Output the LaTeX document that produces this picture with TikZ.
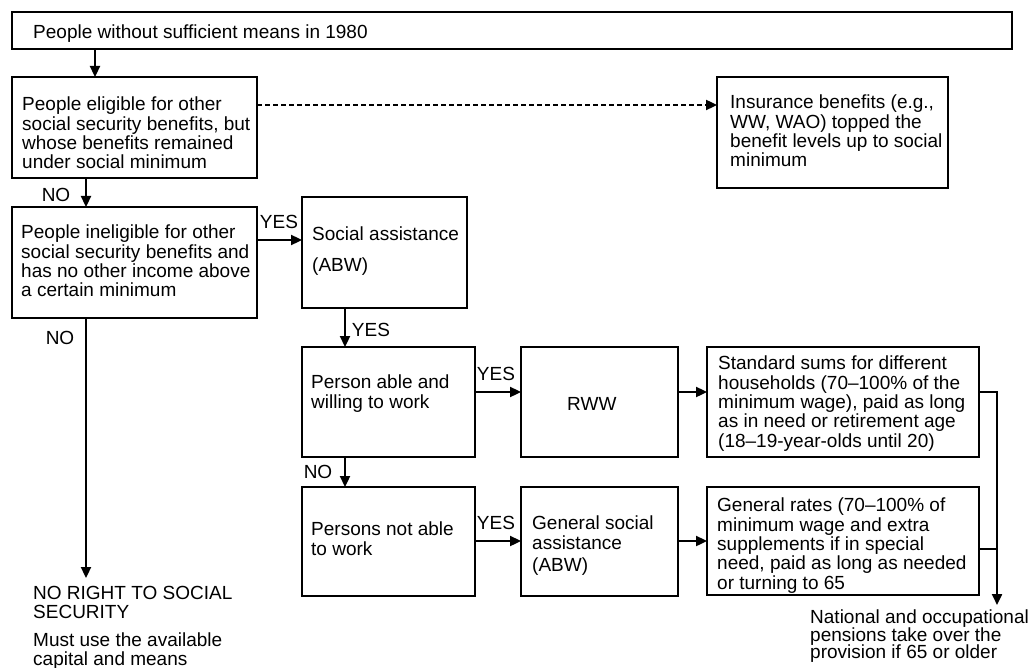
\documentclass[tikz,border=0pt]{standalone}
\usepackage{fontspec}
\setmainfont{Liberation Sans}
\usetikzlibrary{arrows.meta}

\tikzset{
  box/.style={draw, line width=1.3pt, anchor=north west, outer sep=0pt, inner sep=0pt},
  txt/.style={anchor=north west, align=left, inner sep=0pt, font=\fontsize{19}{19.3}\selectfont},
  lbl/.style={inner sep=0pt, font=\fontsize{19}{19.3}\selectfont},
  arr/.style={line width=2.3pt, -{Triangle[length=11pt,width=10pt]}},
}

\begin{document}
\begin{tikzpicture}[x=1pt,y=-1pt]
  \useasboundingbox (0,0) rectangle (1032,668);

  % Draw the boxes
  \node[box, minimum width=1000pt, minimum height=37pt] (top) at (12,12) {};
  \node[box, minimum width=245pt, minimum height=101pt] (elig) at (12,77) {};
  \node[box, minimum width=231pt, minimum height=111pt] (insur) at (717,77) {};
  \node[box, minimum width=245pt, minimum height=111pt] (inelig) at (12,207) {};
  \node[box, minimum width=165pt, minimum height=111pt] (soc) at (302,197) {};
  \node[box, minimum width=173pt, minimum height=110pt] (able) at (302,347) {};
  \node[box, minimum width=157pt, minimum height=110pt] (rww) at (521,347) {};
  \node[box, minimum width=272pt, minimum height=110pt] (std) at (707,347) {};
  \node[box, minimum width=173pt, minimum height=109pt] (unable) at (302,487) {};
  \node[box, minimum width=157pt, minimum height=109pt] (gsa) at (521,487) {};
  \node[box, minimum width=272pt, minimum height=108pt] (rates) at (707,487) {};

  % Texts inside the boxes
  \node[txt] (top-txt) at ([shift={(21,13)}]top.north west) {People without sufficient means in 1980};
  \node[txt] (elig-txt) at ([shift={(10,20)}]elig.north west) {People eligible for other\\social security benefits, but\\whose benefits remained\\under social minimum};
  \node[txt] (insur-txt) at ([shift={(13,18)}]insur.north west) {Insurance benefits (e.g.,\\WW, WAO) topped the\\benefit levels up to social\\minimum};
  \node[txt] (inelig-txt) at ([shift={(9,18)}]inelig.north west) {People ineligible for other\\social security benefits and\\has no other income above\\a certain minimum};
  \node[txt] (soc-txt) at ([shift={(10,30)}]soc.north west) {Social assistance\\[11pt](ABW)};
  \node[txt] (able-txt) at ([shift={(9,28)}]able.north west) {Person able and\\willing to work};
  \node[txt] (rww-txt) at ([shift={(46,50)}]rww.north west) {RWW};
  \node[txt] (std-txt) at ([shift={(11,9)}]std.north west) {Standard sums for different\\households (70--100\% of the\\minimum wage), paid as long\\as in need or retirement age\\(18--19-year-olds until 20)};
  \node[txt] (unable-txt) at ([shift={(9,35)}]unable.north west) {Persons not able\\to work};
  \node[txt] (gsa-txt) at ([shift={(11,29)}]gsa.north west) {General social\\assistance\\[3pt](ABW)};
  \node[txt] (rates-txt) at ([shift={(10,11)}]rates.north west) {General rates (70--100\% of\\minimum wage and extra\\supplements if in special\\need, paid as long as needed\\or turning to 65};

  % Free texts at the ends
  \node[txt] (noright) at (33,586) {NO RIGHT TO SOCIAL\\SECURITY\\[8.5pt]Must use the available\\capital and means};
  \node[txt, font={\fontsize{19}{17.5}\selectfont\lineskiplimit=-5pt}] (pens) at (810,610) {National and occupational\\pensions take over the\\provision if 65 or older};

  % Connectors
  \draw[arr] ([xshift=83pt]top.south west) -- ([xshift=83pt]elig.north west);
  \draw[arr, dash pattern=on 4.5pt off 3.5pt] ([yshift=-28pt]elig.north east) -- ([yshift=-28pt]insur.north west);
  \draw[arr] ([xshift=74pt]elig.south west) -- ([xshift=74pt]inelig.north west);
  \draw[arr] ([yshift=-33pt]inelig.north east) -- ([yshift=-43pt]soc.north west);
  \draw[arr] ([xshift=43pt]soc.south west) -- ([xshift=43pt]able.north west);
  \draw[arr] ([yshift=-45pt]able.north east) -- ([yshift=-45pt]rww.north west);
  \draw[arr] ([yshift=-45pt]rww.north east) -- ([yshift=-45pt]std.north west);
  \draw[arr] ([xshift=43pt]able.south west) -- ([xshift=43pt]unable.north west);
  \draw[arr] ([yshift=-54pt]unable.north east) -- ([yshift=-54pt]gsa.north west);
  \draw[arr] ([yshift=-54pt]gsa.north east) -- ([yshift=-54pt]rates.north west);
  \coordinate (nofoot) at ([xshift=74pt]inelig.south west);
  \draw[arr, shorten >=8pt] (nofoot) -- (nofoot |- noright.north);
  \draw[arr, shorten >=5pt] ([yshift=-45pt]std.north east) -- ++(18,0) coordinate (jtop) -- (jtop |- pens.north);
  \draw[line width=2pt] ([yshift=-62pt]rates.north east) -- ++(18,0);

  % YES / NO labels
  \node[lbl] (no-elig) at (56,195) {NO};
  \node[lbl] (yes-inelig) at (279,222) {YES};
  \node[lbl] (no-inelig) at (60,338) {NO};
  \node[lbl] (yes-soc) at (371,330) {YES};
  \node[lbl] (yes-able) at (496,374) {YES};
  \node[lbl] (no-able) at (318,472) {NO};
  \node[lbl] (yes-unable) at (496,523) {YES};
\end{tikzpicture}
\end{document}
